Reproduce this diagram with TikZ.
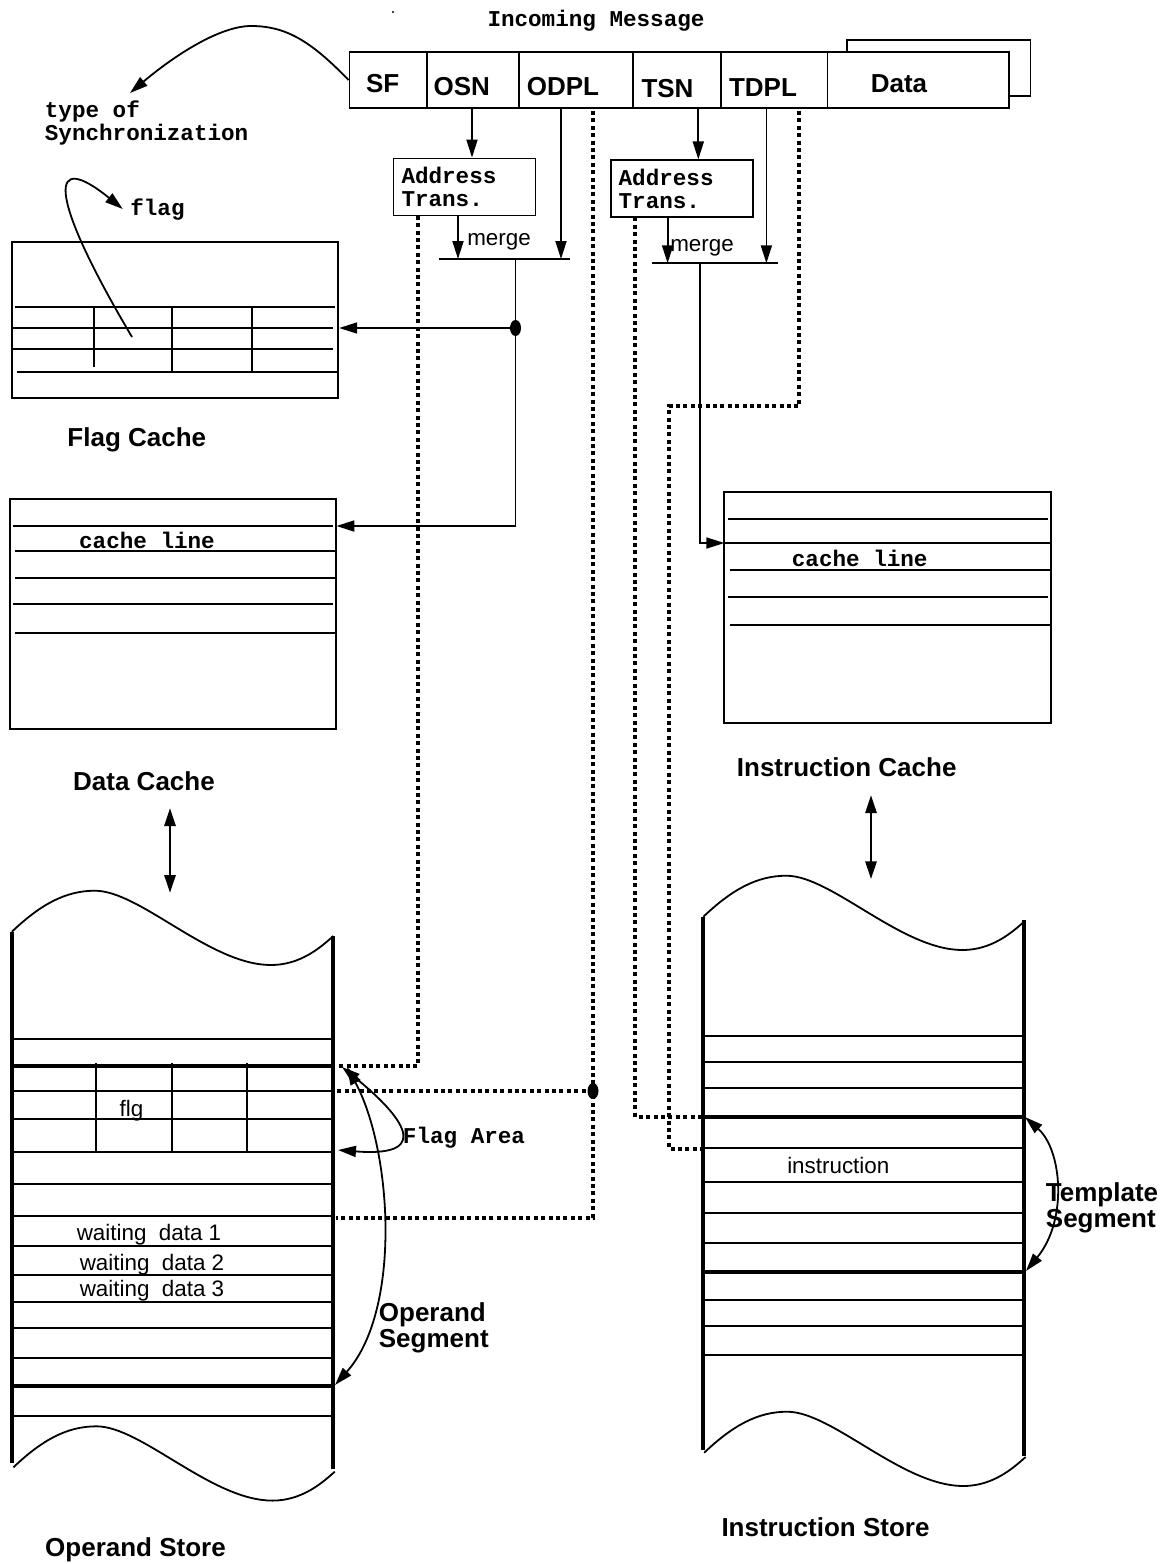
\documentclass[tikz,border=0pt]{standalone}
\usepackage{fontspec}
\setmainfont{Liberation Sans}
\newfontfamily\cour{Liberation Mono}
\usetikzlibrary{arrows.meta}

\tikzset{
  bigtxt/.style={font=\bfseries\fontsize{13}{12.8}\selectfont},
  smalltxt/.style={font=\fontsize{11.2}{13}\selectfont},
  courtxt/.style={font=\cour\bfseries\fontsize{11.3}{11.6}\selectfont},
  wall/.style={line width=2pt},
  dotline/.style={line width=2pt, dash pattern=on 2pt off 1.7pt},
  twoway/.style={<->, line width=1.4pt},
  cachebox/.style={draw, inner sep=0pt, minimum width=163pt},
  atbox/.style={draw, courtxt, align=left, text width=63pt, inner xsep=4pt, inner ysep=2pt, minimum height=28.5pt},
}

\begin{document}
\begin{tikzpicture}[x=0.5pt, y=-0.5pt, line width=0.9pt, >={Triangle[length=9pt,width=5.5pt]}]
\useasboundingbox (0,0) rectangle (1167,1564);

% incoming message
\node[courtxt, anchor=base] (inmsg) at (596,26.7) {Incoming Message};
\fill (393,12) circle (1.2);
\draw (846.6,40) rectangle (1030.4,95.7);
\node[draw, fill=white, minimum width=329.6pt, minimum height=28.3pt, inner sep=0pt] (msg) at (679,80) {};
\foreach \x in {426.7,519.3,633.2,720.8,827.5}
  \draw (\x,51.7) -- (\x,108.3);
\node[bigtxt, anchor=base] (sf) at (382.7,92.7) {SF};
\node[bigtxt, anchor=base] (osn) at (461.7,95.7) {OSN};
\node[bigtxt, anchor=base] (odpl) at (563,95.7) {ODPL};
\node[bigtxt, anchor=base] (tsn) at (667.5,97.3) {TSN};
\node[bigtxt, anchor=base] (tdpl) at (763,96) {TDPL};
\node[bigtxt, anchor=base] (data) at (899,92.7) {Data};

% synchronization type
\node[courtxt, align=left, inner sep=0pt, anchor=west] (sync) at (44,123) {type of\\Synchronization};
\coordinate (synctip) at (130,93);
\draw[->] (msg.west) .. controls (310,40) and (285,26) .. (251,26)
  .. controls (220,26) and (175,55) .. (synctip);

% address translation
\node[atbox] (oat) at (464.5,187) {Address\\Trans.};
\node[atbox] (tat) at (681.65,188.8) {Address\\Trans.};

% caches
\node[cachebox, minimum height=78.3pt] (fcache) at (175.25,320) {};
\draw (15.3,307.3) -- (335,307.3);
\draw (13.4,328.3) -- (333,328.3);
\draw (13.4,349) -- (333,349);
\draw (17,372.3) -- (337,372.3);
\draw (94.1,307.3) -- (94.1,366.7);
\draw (172.2,307.3) -- (172.2,372.3);
\draw (251.8,307.3) -- (251.8,372.3);
\node[bigtxt, anchor=base] (fcachelbl) at (136.8,446.7) {Flag Cache};

\node[courtxt, anchor=base] (flaglbl) at (157.5,215) {flag};
\coordinate (flagcell) at (132,337);
\draw[->] (flagcell) .. controls (45,190) and (50,150) .. (flaglbl.west);

\node[cachebox, minimum height=115pt] (dcache) at (173.35,614.3) {};
\draw (13.4,526) -- (333,526);
\draw (15.3,550.7) -- (335,550.7);
\draw (15.3,577.7) -- (335,577.7);
\draw (13.4,604.3) -- (333,604.3);
\draw (15.3,633) -- (335,633);
\node[courtxt, anchor=base] (dline) at (147,548.3) {cache line};
\node[bigtxt, anchor=base] (dcachelbl) at (144,790.7) {Data Cache};

\node[cachebox, minimum width=163.35pt, minimum height=115.5pt] (icache) at (887.65,607.2) {};
\draw (728,518.7) -- (1047.7,518.7);
\draw (724.3,543) -- (1051,543);
\draw (730,570) -- (1051,570);
\draw (728,596.7) -- (1047.7,596.7);
\draw (730,625) -- (1051,625);
\node[courtxt, anchor=base] (iline) at (859.7,566) {cache line};
\node[bigtxt, anchor=base] (icachelbl) at (846.7,776.7) {Instruction Cache};

% operand side
\coordinate (osnout) at (472,108.3);
\draw[->] (osnout) -- (osnout |- oat.north);
\coordinate (omL) at (439,259);
\coordinate (omR) at (570,259);
\draw (omL) -- (omR);
\node[smalltxt, anchor=base] (omerge) at (499,245) {merge};
\coordinate (oatout) at (458,215.7);
\draw[->] (oatout) -- (oatout |- omL);
\coordinate (odplout) at (561,108.3);
\draw[->] (odplout) -- (odplout |- omL);
\coordinate (omout) at (515.5,259);
\coordinate (fdot) at (515.5,328);
\coordinate (dtarget) at (336.4,526);
\draw[->] (omout) |- (dtarget);
\draw[->] (fdot) -- (fdot -| fcache.east);
\fill (fdot) circle[x radius=2.75pt, y radius=4pt];

% template side
\coordinate (tsnout) at (698.3,108.3);
\draw[->] (tsnout) -- (tsnout |- tat.north);
\coordinate (tmL) at (652.3,263.3);
\coordinate (tmR) at (777.7,263.3);
\draw (tmL) -- (tmR);
\node[smalltxt, anchor=base] (tmerge) at (702,251.7) {merge};
\coordinate (tatout) at (667.6,217.3);
\draw[->] (tatout) -- (tatout |- tmL);
\coordinate (tdplout) at (766.4,108.3);
\draw[->] (tdplout) -- (tdplout |- tmL);
\coordinate (tmout) at (699.8,263.3);
\coordinate (itarget) at (724.3,543);
\draw[->] (tmout) |- (itarget);

% dotted address lines
\coordinate (oatdot) at (418,215.7);
\coordinate (osflag) at (336,1066);
\draw[dotline] (oatdot) |- (osflag);
\coordinate (odpldot) at (593,111);
\coordinate (osdot) at (593,1091);
\coordinate (osflag2) at (336,1091);
\coordinate (oswait) at (336,1217.5);
\draw[dotline] (odpldot) |- (oswait);
\draw[dotline] (osdot) -- (osflag2);
\fill (osdot) circle[x radius=2.75pt, y radius=4pt];
\coordinate (tatdot) at (635.4,217.3);
\coordinate (istmpl) at (702.7,1116.7);
\draw[dotline] (tatdot) |- (istmpl);
\coordinate (tdpldot) at (799.4,111);
\coordinate (tturn) at (669.4,406);
\coordinate (isinstr) at (702.7,1149);
\draw[dotline] (tdpldot) |- (tturn) |- (isinstr);

% stores
\foreach \dx/\dy in {0/0, 1.5/535.6, 691.5/-15, 692.3/521}
  \draw[shift={(\dx,\dy)}] (11.9,931.7) .. controls (40,905) and (65,890.7) .. (94.9,890.7)
    .. controls (140,890.7) and (210,965) .. (270.9,965)
    .. controls (300,965) and (320,948) .. (333.3,936);
\draw[wall] (11.9,931.7) -- (11.9,1463.3);
\draw[wall] (333.3,936) -- (333.3,1469.3);
\draw[wall] (702.7,916.7) -- (702.7,1450);
\draw[wall] (1024.2,920) -- (1024.2,1456);

\foreach \y in {1039,1091,1119.3,1151.7,1184.3,1216,1246,1275,1302.3,1328.3,1357.7,1416}
  \draw (13,\y) -- (332,\y);
\foreach \y in {1066,1386}
  \draw[wall] (13,\y) -- (332,\y);
\foreach \x in {96,172,247}
  \draw (\x,1063) -- (\x,1151.7);
\node[smalltxt, anchor=base] (flg) at (131.5,1116.7) {flg};
\node[smalltxt, anchor=base] (wait1) at (149,1240.7) {waiting\ \ data 1};
\node[smalltxt, anchor=base] (wait2) at (152,1270) {waiting\ \ data 2};
\node[smalltxt, anchor=base] (wait3) at (152,1296.7) {waiting\ \ data 3};

\foreach \y in {1035.7,1062.3,1088.3,1148.3,1181.7,1212.7,1243,1300,1325.7,1355}
  \draw (704,\y) -- (1023,\y);
\foreach \y in {1116.7,1271.7}
  \draw[wall] (704,\y) -- (1023,\y);
\node[smalltxt, anchor=base] (instr) at (838.3,1173.3) {instruction};

% segments
\node[courtxt, anchor=base] (flagarea) at (464,1143.3) {Flag Area};
\coordinate (fatop) at (342,1067);
\coordinate (fabot) at (338,1150);
\draw[<->] (fatop) .. controls (395,1110) and (440,1158) .. (fabot);
\coordinate (segtop) at (347,1067);
\coordinate (segbot) at (335,1385);
\draw[<->] (segtop) .. controls (392,1150) and (402,1310) .. (segbot);
\node[bigtxt, align=left, inner sep=0pt, anchor=west] (oseg) at (378,1327.7) {Operand\\Segment};
\coordinate (ttop) at (1025,1117);
\coordinate (tbot) at (1026,1271);
\draw[<->] (ttop) .. controls (1062,1150) and (1068,1220) .. (tbot);
\node[bigtxt, align=left, inner sep=0pt, anchor=west] (tseg) at (1045,1208) {Template\\Segment};

% cache <-> store
\coordinate (dcio) at (170,808);
\coordinate (osio) at (170,893);
\draw[twoway] (dcio) -- (osio);
\coordinate (icio) at (871,795);
\coordinate (isio) at (871,879.3);
\draw[twoway] (icio) -- (isio);

\node[bigtxt, anchor=base] (ostorelbl) at (135.5,1556.7) {Operand Store};
\node[bigtxt, anchor=base] (istorelbl) at (825.5,1536.7) {Instruction Store};
\end{tikzpicture}
\end{document}
